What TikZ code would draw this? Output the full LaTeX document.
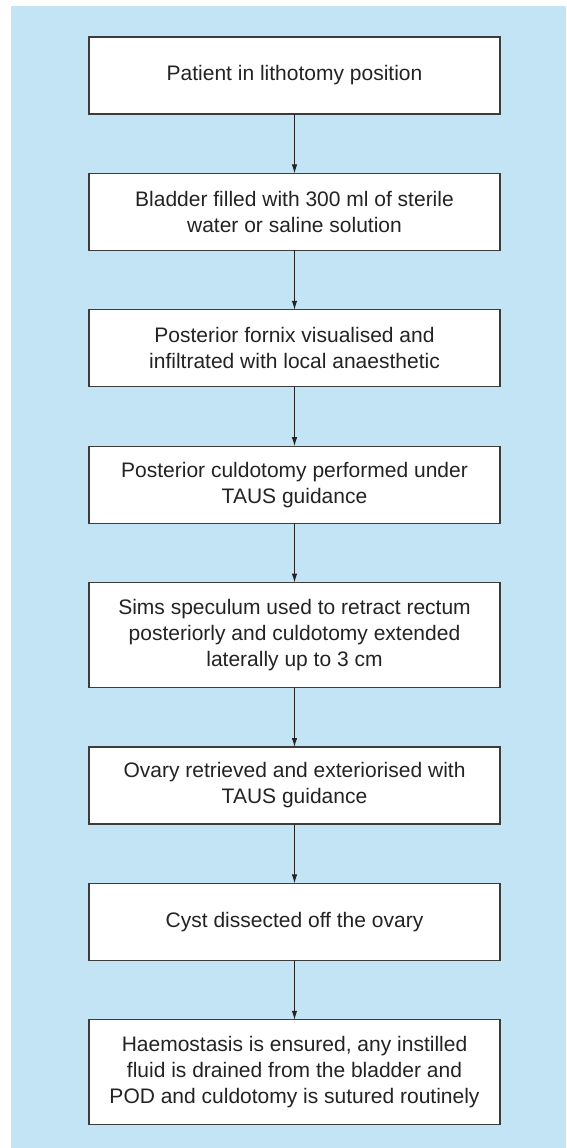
\documentclass[tikz,border=0pt]{standalone}
\usepackage{fontspec}
\setmainfont{Liberation Sans}
\usetikzlibrary{arrows.meta}
\definecolor{bgblue}{RGB}{194,228,245}
\definecolor{edgegray}{RGB}{60,60,60}
\definecolor{txtgray}{RGB}{35,35,35}
\tikzset{
  stepbox/.style={draw=edgegray, line width=1.3pt, fill=white, minimum width=411pt,
    inner sep=0pt, outer sep=0pt, align=center, text=txtgray,
    font=\fontsize{21}{26}\selectfont},
  twoline/.style={stepbox, minimum height=77pt},
  threeline/.style={stepbox, minimum height=105pt},
  flow/.style={draw=txtgray, line width=1pt, -{Latex[length=9pt,width=5.5pt]}}
}
\begin{document}
\begin{tikzpicture}[x=1pt,y=-1pt]
\useasboundingbox (0,0) rectangle (566,1148);
\fill[bgblue] (11,6) rectangle (566,1148);
\node[twoline] (b1) at (294.5,75.5) {Patient in lithotomy position};
\node[twoline] (b2) at (294.5,211.9) {Bladder filled with 300 ml of sterile\\water or saline solution};
\node[twoline] (b3) at (294.5,348.3) {Posterior fornix visualised and\\infiltrated with local anaesthetic};
\node[twoline] (b4) at (294.5,484.7) {Posterior culdotomy performed under\\TAUS guidance};
\node[threeline] (b5) at (294.5,635.1) {Sims speculum used to retract rectum\\posteriorly and culdotomy extended\\laterally up to 3 cm};
\node[twoline] (b6) at (294.5,785.5) {Ovary retrieved and exteriorised with\\TAUS guidance};
\node[twoline] (b7) at (294.5,921.9) {Cyst dissected off the ovary};
\node[threeline] (b8) at (294.5,1072.3) {Haemostasis is ensured, any instilled\\fluid is drained from the bladder and\\POD and culdotomy is sutured routinely};
\foreach \a/\b in {b1/b2,b2/b3,b3/b4,b4/b5,b5/b6,b6/b7,b7/b8}
  \draw[flow] (\a.south) -- (\b.north);
\end{tikzpicture}
\end{document}
